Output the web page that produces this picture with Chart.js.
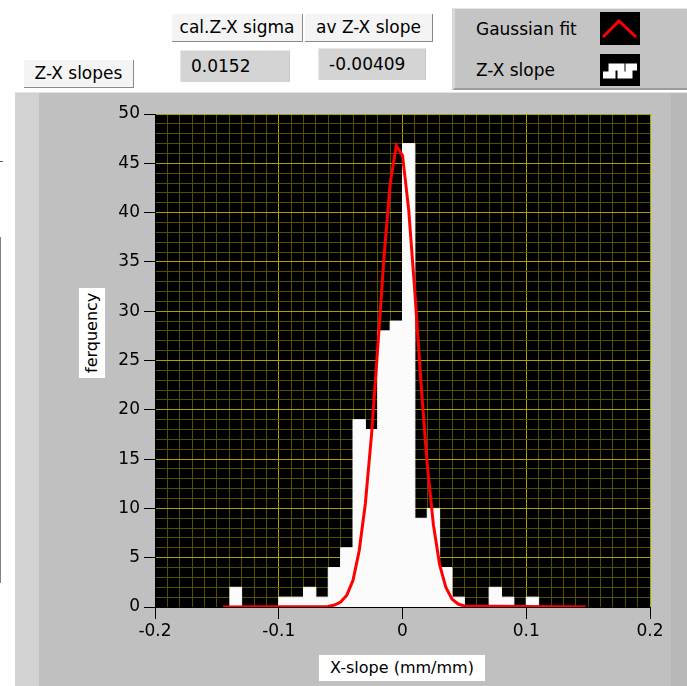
<!DOCTYPE html>
<html>
<head>
<meta charset="utf-8">
<script src="https://cdn.jsdelivr.net/npm/chart.js@4/dist/chart.umd.min.js"></script>
<style>
  body { margin: 0; width: 687px; height: 686px; overflow: hidden; background: #fff; position: relative; font-family: "DejaVu Sans", sans-serif; font-size: 17px; color: #000; }
  .abs { position: absolute; box-sizing: border-box; }
  .lbl { background: #f4f4f4; border-right: 1px solid #8a8a8a; border-bottom: 1px solid #8a8a8a; text-align: center; white-space: nowrap; line-height: 26px; }
  .val { background: #d4d4d4; border-top: 1px solid #e8e8e8; border-left: 1px solid #e8e8e8; border-right: 1px solid #c8c8c8; white-space: nowrap; line-height: 30px; padding-left: 10px; }
  #panel { left: 15px; top: 92px; width: 672px; height: 594px; background: linear-gradient(to right, #d2d2d2 0, #d2d2d2 24px, #c0c0c0 24px, #c0c0c0 656px, #b8b8b8 656px); border-top: 1px solid #e4e4e4; }
  #legend { left: 452px; top: 8px; width: 235px; height: 82px; background: #c4c4c4; border-top: 1px solid #e6e6e6; border-left: 3px solid #d8d8d8; border-bottom: 2px solid #9c9c9c; }
  canvas { position: absolute; left: 0; top: 92px; }
</style>
</head>
<body>
<div class="abs" style="left:0;top:161px;width:3px;height:1px;background:#555"></div>
<div class="abs" style="left:0;top:237px;width:1px;height:346px;background:#808080"></div>

<div class="abs lbl" style="left:172px;top:14px;width:131px;height:28px">cal.Z-X sigma</div>
<div class="abs lbl" style="left:305px;top:14px;width:128px;height:28px">av Z-X slope</div>
<div class="abs val" style="left:180px;top:50px;width:110px;height:32px">0.0152</div>
<div class="abs val" style="left:318px;top:48px;width:108px;height:32px">-0.00409</div>
<div class="abs lbl" style="left:24px;top:60px;width:110px;height:28px">Z-X slopes</div>

<div id="legend" class="abs">
  <div class="abs" style="left:21px;top:7px;line-height:26px">Gaussian fit</div>
  <div class="abs" style="left:21px;top:48px;line-height:26px">Z-X slope</div>
  <svg class="abs" style="left:145px;top:3px" width="40" height="33">
    <rect width="40" height="33" fill="#000"/>
    <polyline points="3,25 19,9 36,25" fill="none" stroke="#ff0000" stroke-width="3"/>
  </svg>
  <svg class="abs" style="left:145px;top:45px" width="40" height="32">
    <rect width="40" height="32" fill="#000"/>
    <polyline points="3,21 12,21 12,13 21,13 21,21 29,21 29,13 37,13" fill="none" stroke="#fff" stroke-width="7"/>
  </svg>
</div>

<div id="panel" class="abs"></div>
<canvas id="chart" width="687" height="594"></canvas>

<div class="abs" style="left:79px;top:288px;width:26px;height:90px;background:#fff;"></div>
<div class="abs" style="left:79px;top:288px;width:26px;height:90px;writing-mode:vertical-rl;transform:rotate(180deg);text-align:center;line-height:26px;font-size:16px">ferquency</div>
<div class="abs" style="left:319px;top:655px;width:166px;height:26px;background:#fff;text-align:center;line-height:26px;font-size:16px">X-slope (mm/mm)</div>

<script>
// histogram bins: left edge of each 0.01 wide bin and its count
var binLeft = [-0.14, -0.13, -0.12, -0.11, -0.10, -0.09, -0.08, -0.07, -0.06, -0.05, -0.04, -0.03, -0.02, -0.01,
               0.00, 0.01, 0.02, 0.03, 0.04, 0.05, 0.06, 0.07, 0.08, 0.09, 0.10];
var binCount = [2, 0, 0, 0, 1, 1, 2, 1, 4, 6, 19, 18, 28, 29,
                47, 9, 10, 4, 1, 0, 0, 2, 1, 0, 1];
var binEnd = 0.11;

// gaussian fit curve
var fitX = [-0.145, -0.06, -0.055, -0.05, -0.045, -0.04, -0.035, -0.03, -0.025, -0.02, -0.015, -0.01, -0.005,
            0, 0.005, 0.01, 0.015, 0.02, 0.025, 0.03, 0.035, 0.04, 0.045, 0.05, 0.148];
var fitY = [0, 0.05, 0.2, 0.5, 1.2, 2.7, 5.7, 10.5, 17.5, 26.3, 35.4, 42.9, 46.8,
            45.8, 40.3, 31.9, 22.6, 14.4, 8.3, 4.3, 2.0, 0.8, 0.3, 0.1, 0];

var MAJOR = '#aaa200';
var MINOR = '#545000';

function isMajorX(v) { return Math.round(v * 100) % 10 === 0; }
function isMajorY(v) { return Math.round(v) % 5 === 0; }

var histData = binLeft.map(function (x, i) { return { x: x, y: binCount[i] }; });
histData.push({ x: binEnd, y: 0 });
var fitData = fitX.map(function (x, i) { return { x: x, y: fitY[i] }; });

// black plot background
var plotBg = {
  id: 'plotBg',
  beforeDraw: function (c) {
    var a = c.chartArea;
    c.ctx.save();
    c.ctx.fillStyle = '#000';
    c.ctx.fillRect(a.left, a.top, a.right - a.left, a.bottom - a.top);
    c.ctx.restore();
  }
};

Chart.defaults.font.family = 'DejaVu Sans';
Chart.defaults.font.size = 17;
Chart.defaults.color = '#000';

var chart = new Chart(document.getElementById('chart').getContext('2d'), {
  type: 'line',
  data: {
    datasets: [
      {
        label: 'Gaussian fit',
        data: fitData,
        borderColor: '#ff0000',
        borderWidth: 3,
        pointRadius: 0,
        fill: false,
        order: 0
      },
      {
        label: 'Z-X slope',
        data: histData,
        stepped: 'before',
        borderColor: '#fbfbfb',
        borderWidth: 1,
        backgroundColor: '#fbfbfb',
        pointRadius: 0,
        fill: 'origin',
        order: 1
      }
    ]
  },
  options: {
    responsive: false,
    animation: false,
    layout: { padding: { left: 95, top: 22, right: 37, bottom: 39 } },
    plugins: { legend: { display: false }, tooltip: { enabled: false } },
    scales: {
      x: {
        type: 'linear',
        min: -0.2,
        max: 0.2,
        afterFit: function (s) { s.height = 40; },
        border: { color: '#000' },
        grid: {
          color: function (ctx) { return ctx.tick && isMajorX(ctx.tick.value) ? MAJOR : MINOR; },
          tickColor: function (ctx) { return ctx.tick && isMajorX(ctx.tick.value) ? '#000' : 'rgba(0,0,0,0)'; },
          tickLength: 12
        },
        ticks: {
          stepSize: 0.01,
          autoSkip: false,
          maxRotation: 0,
          padding: 2,
          callback: function (v) { return isMajorX(v) ? String(Math.round(v * 10) / 10) : ''; }
        }
      },
      y: {
        min: 0,
        max: 50,
        afterFit: function (s) { s.width = 60; },
        border: { color: '#000' },
        grid: {
          color: function (ctx) { return ctx.tick && isMajorY(ctx.tick.value) ? MAJOR : MINOR; },
          tickColor: function (ctx) { return ctx.tick && isMajorY(ctx.tick.value) ? '#000' : 'rgba(0,0,0,0)'; },
          tickLength: 11
        },
        ticks: {
          stepSize: 1,
          autoSkip: false,
          padding: 4,
          callback: function (v) { return isMajorY(v) ? String(v) : ''; }
        }
      }
    }
  },
  plugins: [plotBg]
});
</script>
</body>
</html>
